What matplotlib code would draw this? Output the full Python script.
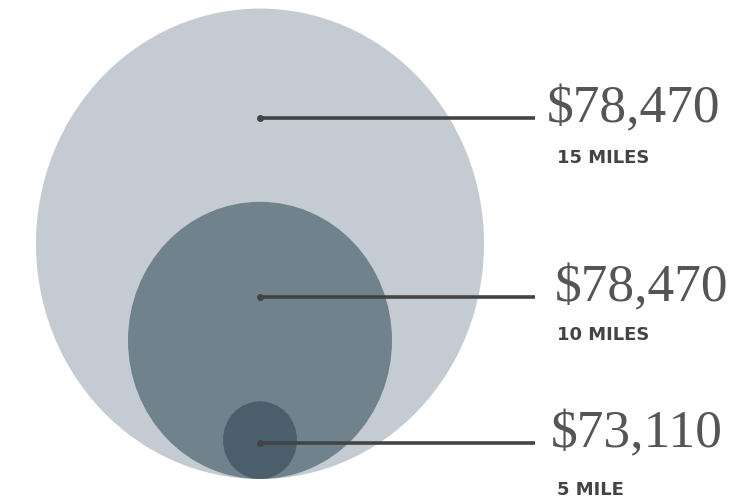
import matplotlib.pyplot as plt
from matplotlib.patches import Ellipse

# data
tiers = ["15 MILES", "10 MILES", "5 MILE"]
incomes = ["$78,470", "$78,470", "$73,110"]
circle_radius = [224, 132, 37]      # horizontal radius of each circle
colors = ["#c4cbd2", "#70828c", "#4a5f6b"]

STRETCH = 1.05          # circles are drawn a bit taller than wide
CX, BOTTOM = 260, 479   # shared centre x and common bottom
anchor_y = [118, 297, 443]
value_x = [547, 555, 551]
label_dy = [40, 38, 47]
LINE_END = 535


def main():
    fig = plt.figure(figsize=(7.36, 4.99), dpi=100)
    ax = fig.add_axes([0, 0, 1, 1])
    ax.set_xlim(0, 736)
    ax.set_ylim(499, 0)
    ax.axis("off")

    for r, c in zip(circle_radius, colors):
        ry = r * STRETCH
        ax.add_patch(Ellipse((CX, BOTTOM - ry), 2 * r, 2 * ry,
                             facecolor=c, edgecolor="none"))

    for tier, inc, y, vx, dy in zip(tiers, incomes, anchor_y, value_x, label_dy):
        ax.plot([CX, LINE_END], [y, y], color="#444444", lw=2.6,
                solid_capstyle="butt")
        ax.plot(CX, y, "o", color="#444444", ms=4)
        ax.text(vx, y - 9, inc, family="Liberation Serif", fontsize=38.5,
                color="#555555", ha="left", va="center")
        ax.text(557, y + dy, tier, family="DejaVu Sans", fontweight="bold",
                fontsize=13, color="#444444", ha="left", va="center")

    fig.savefig("out.png", dpi=100)
    plt.close(fig)


if __name__ == "__main__":
    main()
